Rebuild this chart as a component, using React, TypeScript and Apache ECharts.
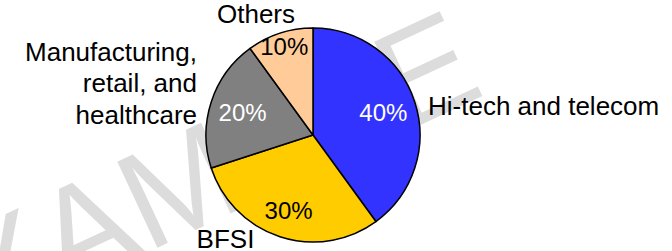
import React, { useEffect, useRef } from "react";
import * as echarts from "echarts";

const categories = ["Hi-tech and telecom", "BFSI", "Manufacturing,\nretail, and\nhealthcare", "Others"];
const values = [40, 30, 20, 10];
const sliceColors = ["#3333FF", "#FFCC00", "#808080", "#FFCC99"];
const percentColors = ["#FFFFFF", "#000000", "#FFFFFF", "#000000"];
const watermarkText = "EXAMPLE";

// layout (not data)
const CX = 313;
const CY = 135;
const R = 107;
const innerLabelRadius = [74, 79, 74, 93];
const outerLabelPos = [
  { x: 428, y: 106, align: "left" },
  { x: 225.5, y: 238.5, align: "center" },
  { x: 197, y: 83, align: "right" },
  { x: 256, y: 14, align: "center" },
];

const FONT = "'Liberation Sans', Arial, sans-serif";

export default function App() {
  const ref = useRef<HTMLDivElement>(null);
  useEffect(() => {
    if (!ref.current) return;
    const chart = echarts.init(ref.current, undefined, { renderer: "svg" });
    const total = values.reduce((a, b) => a + b, 0);
    const midAngles: number[] = [];
    let cum = 0;
    values.forEach((v) => {
      midAngles.push((2 * Math.PI * (cum + v / 2)) / total);
      cum += v;
    });
    const data = categories.map((name, i) => ({
      name,
      value: values[i],
      itemStyle: { color: sliceColors[i] },
    }));
    const pctData = categories.map((name, i) => ({
      name,
      value: values[i],
      label: { color: percentColors[i] },
    }));
    chart.setOption({
      animation: false,
      backgroundColor: "#FFFFFF",
      graphic: [
        {
          type: "text",
          x: 172,
          y: 188,
          rotation: (25 * Math.PI) / 180,
          z: 0,
          silent: true,
          style: {
            text: watermarkText,
            fontSize: 138,
            fontFamily: FONT,
            fill: "#DCDCDC",
            align: "center",
            verticalAlign: "middle",
          },
        },
      ],
      series: [
        {
          type: "pie",
          z: 2,
          center: [CX, CY],
          radius: R,
          startAngle: 90,
          clockwise: true,
          avoidLabelOverlap: false,
          itemStyle: { borderColor: "#000000", borderWidth: 1.5 },
          label: {
            show: true,
            position: "outside",
            formatter: "{b}",
            fontSize: 26,
            lineHeight: 31.5,
            fontFamily: FONT,
            color: "#000000",
          },
          labelLine: { show: false },
          labelLayout: (p: any) => {
            const o = outerLabelPos[p.dataIndex];
            return { x: o.x, y: o.y, align: o.align, verticalAlign: "middle" };
          },
          emphasis: { disabled: true },
          data,
        },
        {
          type: "pie",
          z: 3,
          silent: true,
          center: [CX, CY],
          radius: R,
          startAngle: 90,
          clockwise: true,
          avoidLabelOverlap: false,
          itemStyle: { color: "rgba(0,0,0,0)", borderWidth: 0 },
          label: {
            show: true,
            position: "inside",
            formatter: (p: any) => p.value + "%",
            fontSize: 24,
            fontFamily: FONT,
          },
          labelLine: { show: false },
          labelLayout: (p: any) => {
            const a = midAngles[p.dataIndex];
            const r = innerLabelRadius[p.dataIndex];
            return {
              x: CX + r * Math.sin(a),
              y: CY - r * Math.cos(a),
              align: "center",
              verticalAlign: "middle",
            };
          },
          emphasis: { disabled: true },
          data: pctData,
        },
      ],
    });
    return () => chart.dispose();
  }, []);
  return (
    <div
      ref={ref}
      style={{ position: "fixed", left: 0, top: 0, width: 672, height: 251 }}
    />
  );
}
